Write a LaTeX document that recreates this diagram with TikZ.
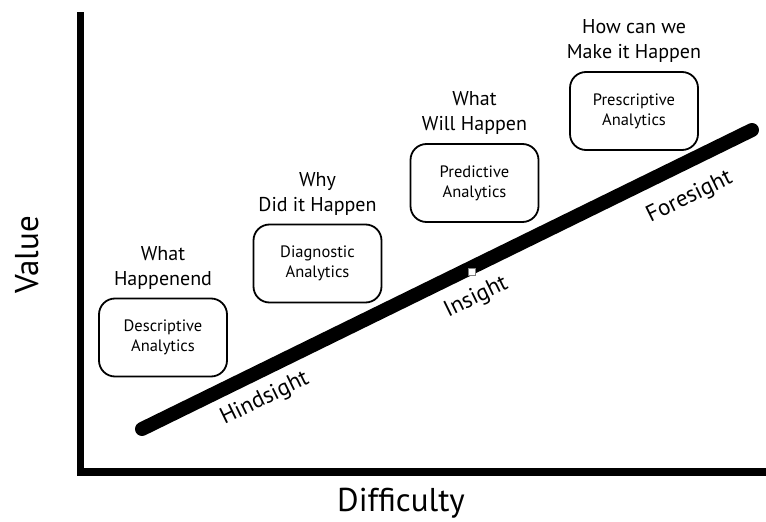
\documentclass[tikz,border=0pt]{standalone}
\usepackage{fontspec}
\setmainfont{PT Sans}
\usetikzlibrary{positioning,calc}

\begin{document}
\begin{tikzpicture}[x=1pt, y=-1pt,
  font=\fontsize{20}{25}\selectfont,
  stage/.style={draw, line width=1.8pt, rounded corners=16pt, minimum width=128pt, minimum height=78pt, align=center, font=\fontsize{16.5}{20}\selectfont},
  ask/.style={align=center, inner sep=0pt},
  axis/.style={line width=7.5pt},
  trend/.style={line width=14pt, line cap=round},
  era/.style={rotate=26.1, font=\fontsize{23}{25}\selectfont},
  title/.style={font=\fontsize{33}{36}\selectfont, anchor=base}
]
\useasboundingbox (0,0) rectangle (766,522);

% ---- axes
\coordinate (top) at (80.5,12);
\coordinate (far) at (766,472);
\draw[axis] (top) |- (far);
\node[title, rotate=90] (value) at (38,255) {Value};
\node[title] (diff) at (401,511) {Difficulty};

% ---- trend bar
\coordinate (lo) at (142,429);
\coordinate (hi) at (752,130);
\draw[trend] (lo) -- (hi);
\coordinate (h0) at ($(lo)!0.182!(hi)$);
\coordinate (i0) at ($(lo)!0.527!(hi)$);
\coordinate (f0) at ($(lo)!0.874!(hi)$);
\node[era] (hind) at ($(h0)!27pt!-90:(hi)$) {Hindsight};
\node[era] (ins) at ($(i0)!29pt!-90:(hi)$) {Insight};
\node[era] (fore) at ($(f0)!33pt!-90:(hi)$) {Foresight};
\node[draw=gray, fill=white, line width=0.7pt, minimum size=7pt, inner sep=0pt] (mark) at (471.5,271.5) {};

% ---- analytics stages
\node[stage] (desc) at (163,337.5) {Descriptive\\Analytics};
\node[stage] (diag) at (317.5,263.5) {Diagnostic\\Analytics};
\node[stage] (pred) at (474.5,183) {Predictive\\Analytics};
\node[stage] (presc) at (634,111) {Prescriptive\\Analytics};

% ---- questions
\node[ask, above=8pt of desc] (q1) {What\\Happenend};
\node[ask, above=8pt of diag] (q2) {Why\\Did it Happen};
\node[ask, above=8pt of pred] (q3) {What\\Will Happen};
\node[ask, above=8pt of presc] (q4) {How can we\\Make it Happen};
\end{tikzpicture}
\end{document}
